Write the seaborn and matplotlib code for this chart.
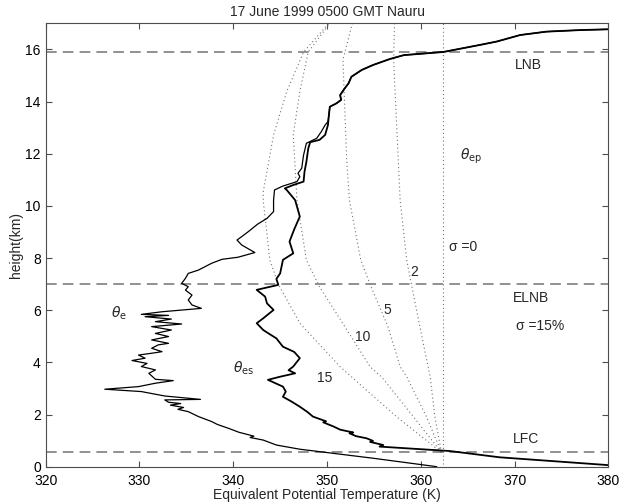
import matplotlib
matplotlib.use("Agg")
import matplotlib.pyplot as plt
import seaborn as sns

# measured profiles (equivalent potential temperature in K, height in km)
theta_e_K = [361.7, 355.0, 347.1, 344.6, 343.2, 341.8, 342.2, 340.6, 339.5, 338.3,
             337.7, 336.3, 335.2, 334.1, 334.7, 333.3, 334.4, 333.1, 332.7, 336.5,
             332.7, 330.2, 326.3, 329.9, 331.7, 333.6, 331.7, 331.0, 331.7, 330.2,
             330.8, 329.2, 330.6, 329.9, 331.7, 332.4, 331.3, 332.0, 333.1, 331.3,
             333.1, 331.7, 333.4, 331.3, 334.5, 331.7, 333.4, 330.6, 333.1, 330.2,
             332.4, 336.6, 335.6, 335.2, 335.6, 334.9, 335.2, 334.5, 334.9, 335.2,
             336.3, 337.7, 338.8, 340.5, 342.3, 340.9, 340.4, 340.9, 341.6, 342.6,
             343.6, 344.3, 344.3, 344.4, 345.3, 346.8, 347.1, 346.9, 347.3, 347.5,
             347.8, 348.9, 349.4, 349.8, 350.1, 350.2, 350.3, 351.0, 351.5, 351.4,
             351.9, 352.3, 352.6, 353.7, 354.9, 356.7, 358.2, 362.4, 366.3, 368.1,
             370.6, 373.4, 377.0, 380.0]
theta_e_km = [0.00, 0.32, 0.67, 0.83, 1.02, 1.12, 1.17, 1.32, 1.47, 1.62,
              1.73, 1.92, 2.11, 2.20, 2.27, 2.36, 2.42, 2.47, 2.56, 2.58,
              2.71, 2.88, 2.97, 3.07, 3.20, 3.30, 3.35, 3.58, 3.71, 3.84,
              3.96, 4.07, 4.16, 4.28, 4.37, 4.41, 4.54, 4.67, 4.73, 4.86,
              4.99, 5.11, 5.24, 5.37, 5.47, 5.56, 5.66, 5.75, 5.80, 5.84,
              5.94, 6.07, 6.20, 6.39, 6.58, 6.77, 6.90, 7.03, 7.22, 7.41,
              7.54, 7.80, 7.95, 8.03, 8.21, 8.50, 8.69, 8.82, 9.01, 9.30,
              9.52, 9.78, 10.22, 10.61, 10.76, 10.93, 11.12, 11.25, 11.44, 11.95,
              12.40, 12.59, 12.85, 13.10, 13.23, 13.48, 13.80, 13.93, 14.06, 14.25,
              14.51, 14.70, 14.95, 15.21, 15.40, 15.63, 15.78, 15.90, 16.17, 16.30,
              16.55, 16.68, 16.74, 16.77]

theta_es_K = [380.0, 368.4, 363.1, 355.6, 356.0, 354.6, 354.9, 354.2, 353.1, 352.4,
              352.8, 351.4, 350.7, 349.6, 349.9, 348.5, 347.9, 347.1, 346.2, 345.3,
              345.6, 345.3, 343.7, 345.0, 346.6, 345.9, 346.4, 347.1, 346.5, 345.3,
              344.6, 343.8, 343.2, 342.5, 343.2, 344.3, 343.6, 343.4, 342.5, 344.8,
              344.6, 345.0, 345.3, 346.4, 346.0, 346.5, 347.1, 346.6, 345.7, 345.5,
              346.4, 347.5, 347.6, 347.8, 348.0, 348.2, 349.2, 349.8, 350.1, 350.2,
              350.3, 351.0, 351.5, 351.4, 351.9, 352.3, 352.6, 353.7, 354.9, 356.7,
              358.2, 362.4, 366.3, 368.1, 370.6, 373.4, 377.0, 380.0]
theta_es_km = [0.06, 0.36, 0.60, 0.77, 0.83, 0.95, 0.99, 1.09, 1.17, 1.28,
               1.31, 1.42, 1.54, 1.70, 1.74, 1.92, 2.10, 2.30, 2.50, 2.68,
               2.88, 3.07, 3.33, 3.45, 3.58, 3.70, 3.84, 4.16, 4.40, 4.60,
               4.92, 5.10, 5.24, 5.50, 5.69, 6.01, 6.26, 6.52, 6.78, 6.97,
               7.20, 7.41, 7.93, 8.18, 8.63, 9.10, 9.59, 10.22, 10.61, 10.67,
               10.80, 10.93, 11.31, 11.69, 12.20, 12.44, 12.53, 12.72, 13.10, 13.48,
               13.80, 13.93, 14.06, 14.25, 14.51, 14.70, 14.95, 15.21, 15.40, 15.63,
               15.78, 15.90, 16.17, 16.30, 16.55, 16.68, 16.74, 16.77]

# entraining plume theta_ep curves for sigma = 0, 2, 5, 10, 15 %
sigma_0_K = [362.4, 362.4]
sigma_0_km = [0.1, 17.0]
sigma_2_K = [362.2, 361.5, 361.0, 359.9, 359.0, 358.5, 357.8, 357.6, 357.1, 357.2]
sigma_2_km = [0.55, 1.92, 3.45, 5.37, 7.0, 7.92, 10.2, 11.75, 15.6, 17.0]
sigma_5_K = [362.2, 360.6, 358.5, 357.8, 356.5, 354.7, 353.6, 352.4, 352.1, 351.7, 352.7]
sigma_5_km = [0.55, 1.92, 3.45, 3.83, 5.37, 6.9, 7.92, 10.2, 11.75, 15.6, 17.0]
sigma_10_K = [362.2, 359.2, 355.8, 354.6, 351.9, 349.2, 347.8, 346.8, 346.4, 347.1, 348.0, 350.3]
sigma_10_km = [0.55, 1.92, 3.45, 3.83, 5.37, 6.9, 7.92, 10.2, 12.72, 14.38, 15.9, 17.0]
sigma_15_K = [362.2, 357.4, 351.4, 347.1, 344.8, 343.9, 343.2, 343.2, 344.3, 345.7, 347.5, 350.2]
sigma_15_km = [0.55, 1.92, 3.83, 5.5, 7.0, 7.92, 10.2, 10.54, 12.72, 14.38, 15.9, 17.0]

level_names = ["LFC", "ELNB", "LNB"]
level_km = [0.58, 7.0, 15.9]

sns.set_theme(style="ticks")
plt.rcParams["font.family"] = ["Liberation Sans", "DejaVu Sans"]
plt.rcParams["mathtext.fontset"] = "dejavusans"

fig, ax = plt.subplots(figsize=(6.22, 5.03), dpi=100)
fig.subplots_adjust(left=0.0735, right=0.978, bottom=0.0722, top=0.9537)

# dotted entrainment curves
dot_kw = dict(color="0.45", linewidth=0.8, linestyle=(0, (1, 2.5)))
for xs, ys in [(sigma_0_K, sigma_0_km), (sigma_2_K, sigma_2_km), (sigma_5_K, sigma_5_km),
               (sigma_10_K, sigma_10_km), (sigma_15_K, sigma_15_km)]:
    sns.lineplot(x=xs, y=ys, sort=False, estimator=None, ax=ax, **dot_kw)

# level lines
for lev in level_km:
    ax.axhline(lev, color="0.45", linewidth=1.1, dashes=(7, 4))

# profiles
sns.lineplot(x=theta_e_K, y=theta_e_km, sort=False, estimator=None, ax=ax,
             color="black", linewidth=0.9)
sns.lineplot(x=theta_es_K, y=theta_es_km, sort=False, estimator=None, ax=ax,
             color="black", linewidth=1.3)

ax.set_xlim(320, 380)
ax.set_ylim(0, 17)
ax.set_xticks(range(320, 381, 10))
ax.set_yticks(range(0, 17, 2))
ax.tick_params(direction="in", top=True, right=True, length=4, width=0.8,
               labelsize=10, colors="0.3", labelcolor="black")
ax.tick_params(axis="x", pad=5.5)
for s in ax.spines.values():
    s.set_color("0.3")
    s.set_linewidth(0.8)

ax.set_title("17 June 1999 0500 GMT Nauru", fontsize=10, pad=5)
ax.set_xlabel("Equivalent Potential Temperature (K)", fontsize=10, labelpad=0)
ax.set_ylabel("height(km)", fontsize=10, labelpad=2)

# annotations
txt = dict(fontsize=10, va="center", ha="left")
ax.text(370.0, 15.39, "LNB", **txt)
ax.text(369.8, 6.48, "ELNB", **txt)
ax.text(369.8, 1.06, "LFC", **txt)
ax.text(370.2, 5.4, "σ =15%", **txt)
ax.text(363.0, 8.43, "σ =0", **txt)
ax.text(364.2, 11.9, r"$\theta_{\mathrm{ep}}$", **txt)
ax.text(327.0, 5.88, r"$\theta_{\mathrm{e}}$", **txt)
ax.text(340.0, 3.77, r"$\theta_{\mathrm{es}}$", **txt)
num = dict(fontsize=10, va="center", ha="center")
ax.text(359.3, 7.45, "2", **num)
ax.text(356.4, 6.0, "5", **num)
ax.text(353.8, 4.97, "10", **num)
ax.text(349.8, 3.4, "15", **num)

fig.savefig("out.png", dpi=100)
